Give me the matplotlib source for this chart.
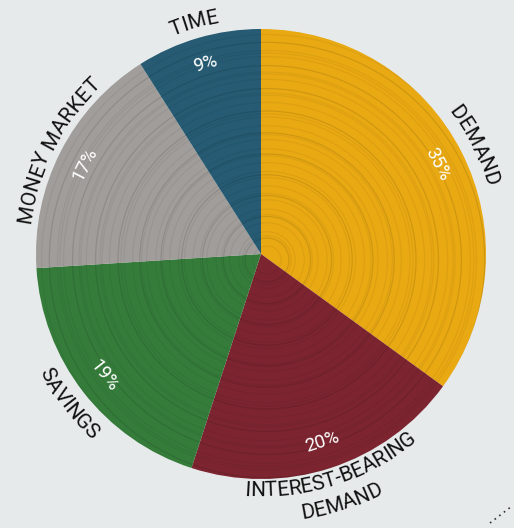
import numpy as np
import matplotlib
matplotlib.use("Agg")
import matplotlib.pyplot as plt
from matplotlib.font_manager import FontProperties
from matplotlib.textpath import TextToPath
from matplotlib.patches import Circle

# ---------- data ----------
categories = ["DEMAND", "INTEREST-BEARING\nDEMAND", "SAVINGS", "MONEY MARKET", "TIME"]
shares = [35, 20, 19, 17, 9]
colors = ["#e9a913", "#7c2531", "#357c3b", "#a19d9a", "#265b73"]

W, H = 514, 528
CX, CY, R = 261, 274, 225
BG = "#e7eaea"

fig = plt.figure(figsize=(W / 100, H / 100), dpi=100, facecolor=BG)
ax = fig.add_axes([0, 0, 1, 1])

wedges, _ = ax.pie(shares, colors=colors, startangle=90, counterclock=False,
                   center=(CX, CY), radius=R, frame=True,
                   wedgeprops=dict(linewidth=0))
ax.set_xlim(0, W)
ax.set_ylim(0, H)
ax.set_aspect("equal")
ax.axis("off")

# faint wood-ring texture
clip = Circle((CX, CY), R, transform=ax.transData)
for k, rr in enumerate(np.arange(14, R, 5.5)):
    ring = Circle((CX + 6, CY - 6), rr + 2.5 * np.sin(k * 1.7), fill=False,
                  ec="black", lw=0.9, alpha=0.05 + 0.06 * (k % 4 == 1))
    ax.add_patch(ring)
    ring.set_clip_path(clip)

fp = FontProperties(family="Roboto", size=15)
fp_pct = FontProperties(family="Roboto", size=13.5)
t2p = TextToPath()
PX = 100 / 72


def text_w(s, prop):
    if not s:
        return 0.0
    w, h, d = t2p.get_text_width_height_descent(s, prop, ismath=False)
    return w * PX


def curved(text, r_mid, mid_deg, prop, color="#111111"):
    # letters' tops point outward on the upper half, inward on the lower half
    top = 0 < (mid_deg % 360) < 180
    cap = 0.71 * prop.get_size() * PX
    r_base = r_mid - cap / 2 if top else r_mid + cap / 2
    total = text_w(text, prop)
    for i, ch in enumerate(text):
        s = text_w(text[:i], prop) + text_w(ch, prop) / 2 - total / 2
        if ch == " ":
            continue
        a = np.radians(mid_deg) + (-s / r_base if top else s / r_base)
        rot = np.degrees(a) - 90 if top else np.degrees(a) + 90
        ax.text(CX + r_base * np.cos(a), CY + r_base * np.sin(a), ch,
                fontproperties=prop, color=color, rotation=rot,
                rotation_mode="anchor", ha="center", va="baseline")


label_r = [243, 235, 244, 240, 243]
for w, cat, pct, lr in zip(wedges, categories, shares, label_r):
    mid = (w.theta1 + w.theta2) / 2
    lines = cat.split("\n")
    for j, line in enumerate(lines):
        curved(line, lr + 26 * j, mid, fp)
    # percentage inside the slice
    a = np.radians(mid)
    top = 0 < (mid % 360) < 180
    rot = mid - 90 if top else mid + 90
    ax.text(CX + 198 * np.cos(a), CY + 198 * np.sin(a), f"{pct}%",
            fontproperties=fp_pct, color="white", rotation=rot,
            rotation_mode="anchor", ha="center", va="center")

ax.plot([490, 512], [5, 22], ls=(0, (1, 2.5)), color="#333333", lw=1.2)

fig.savefig("out.png", dpi=100, facecolor=BG)
